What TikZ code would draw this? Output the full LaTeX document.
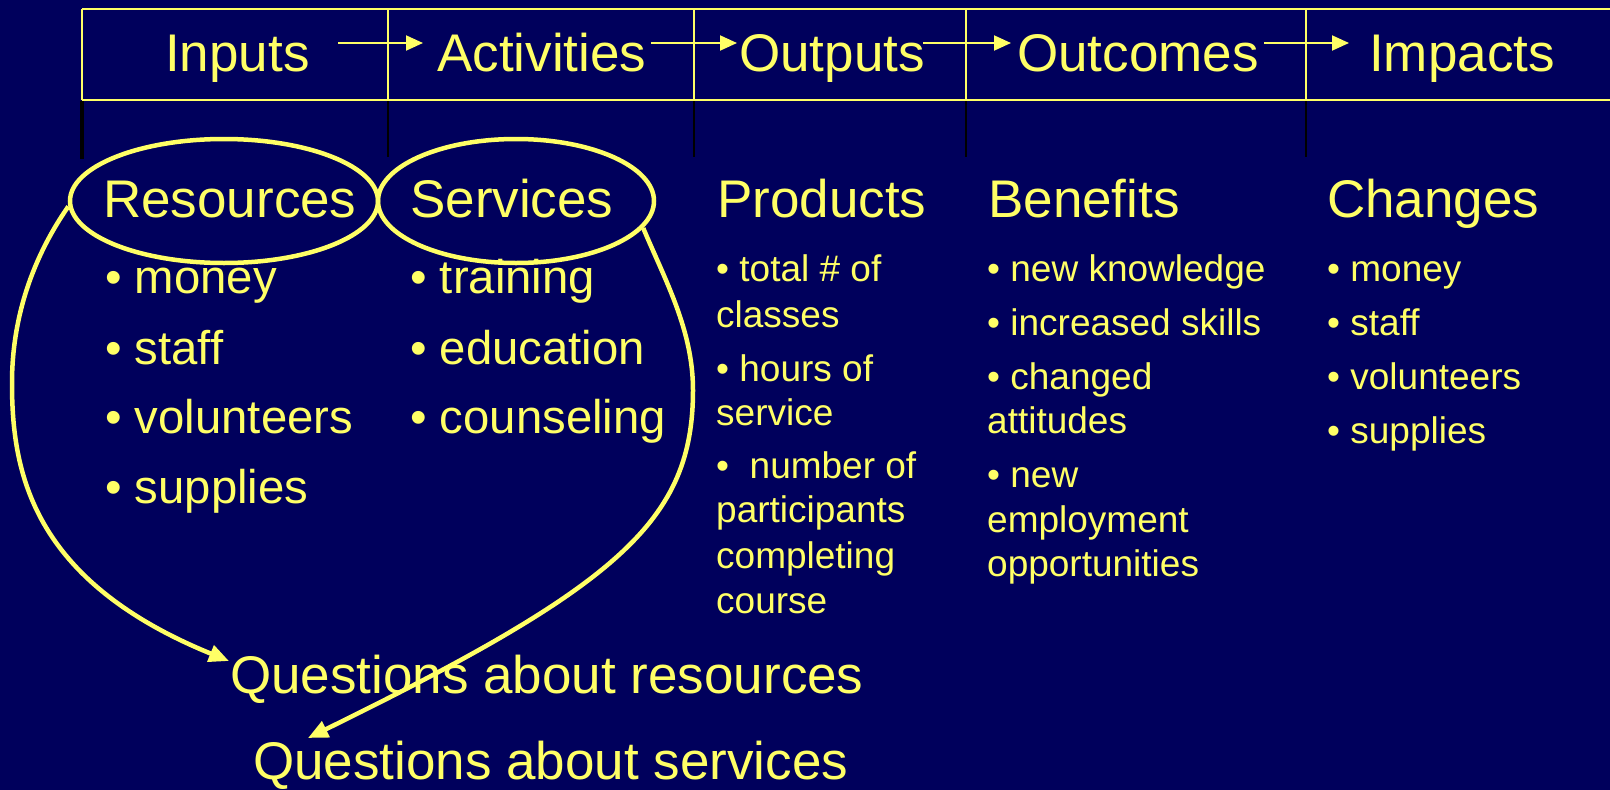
\documentclass[tikz,border=0pt]{standalone}
\usepackage{fontspec}
\setmainfont{Liberation Sans}
\usetikzlibrary{arrows.meta,shapes.geometric}
\definecolor{bg}{RGB}{0,0,92}
\definecolor{yel}{RGB}{255,255,102}
\begin{document}
\begin{tikzpicture}[x=1pt,y=-1pt,
  big/.style={text=yel,inner sep=0,anchor=base west,font=\fontsize{53}{60}\selectfont},
  mid/.style={text=yel,inner sep=0,anchor=base west,font=\fontsize{47.3}{54}\selectfont},
  sml/.style={text=yel,inner sep=0,anchor=base west,font=\fontsize{37}{42}\selectfont},
  rule/.style={draw=yel,line width=2.5pt},
  divider/.style={draw=yel,line width=2pt},
  tick/.style={draw=black,line width=1.5pt},
  flow/.style={draw=yel,line width=2pt,-{Triangle[length=17pt,width=15pt]}},
  loopy/.style={draw=yel,line width=4.5pt,-{Triangle[length=20pt,width=17pt]}},
  oval/.style={draw=yel,line width=4.5pt,ellipse,inner sep=0}]
\fill[bg] (0,0) rectangle (1610,790);
\useasboundingbox (0,0) rectangle (1610,790);
% header frame
\draw[rule] (82,9) -- (1610,9);
\draw[rule] (82,100) -- (1610,100);
\foreach \x in {82,388,694,966,1306} {\draw[divider] (\x,9) -- (\x,100);}
\draw[draw=black,line width=4.5pt] (82,101) -- (82,159);
\foreach \x in {388,694,966,1306} {\draw[tick] (\x,101) -- (\x,157);}
% header texts
\node[big] (inputs) at (165,71) {Inputs};
\node[big] (activities) at (437,71) {Activities};
\node[big] (outputs) at (739,71) {Outputs};
\node[big] (outcomes) at (1017,71) {Outcomes};
\node[big] (impacts) at (1369,71) {Impacts};
\coordinate (a1s) at (338,43); \coordinate (a1e) at (423,43);
\coordinate (a2s) at (651,43); \coordinate (a2e) at (737,43);
\coordinate (a3s) at (923,43); \coordinate (a3e) at (1011,43);
\coordinate (a4s) at (1264,43); \coordinate (a4e) at (1349,43);
\draw[flow] (a1s) -- (a1e);
\draw[flow] (a2s) -- (a2e);
\draw[flow] (a3s) -- (a3e);
\draw[flow] (a4s) -- (a4e);
% column titles
\node[big] (resources) at (103,217) {Resources};
\node[big] (services) at (410,217) {Services};
\node[big] (products) at (717,217) {Products};
\node[big] (benefits) at (988,217) {Benefits};
\node[big] (changes) at (1327,217) {Changes};
\node[oval,minimum width=308pt,minimum height=124pt] (resE) at (224,201) {};
\node[oval,minimum width=276pt,minimum height=124pt] (serE) at (516,201) {};
% column 1
\node[mid] (r1) at (105,293) {• money};
\node[mid] (r2) at (105,364) {• staff};
\node[mid] (r3) at (105,433) {• volunteers};
\node[mid] (r4) at (105,503) {• supplies};
% column 2
\node[mid] (s1) at (410,293) {• training};
\node[mid] (s2) at (410,364) {• education};
\node[mid] (s3) at (410,433) {• counseling};
% column 3
\node[sml] (p1a) at (716,281) {• total \# of};
\node[sml] (p1b) at (716,327) {classes};
\node[sml] (p2a) at (716,381) {• hours of};
\node[sml] (p2b) at (716,425) {service};
\node[sml] (p3a) at (716,478) {•\ \ number of};
\node[sml] (p3b) at (716,522) {participants};
\node[sml] (p3c) at (716,568) {completing};
\node[sml] (p3d) at (716,613) {course};
% column 4
\node[sml] (b1) at (987,281) {• new knowledge};
\node[sml] (b2) at (987,335) {• increased skills};
\node[sml] (b3a) at (987,389) {• changed};
\node[sml] (b3b) at (987,433) {attitudes};
\node[sml] (b4a) at (987,487) {• new};
\node[sml] (b4b) at (987,532) {employment};
\node[sml] (b4c) at (987,576) {opportunities};
% column 5
\node[sml] (c1) at (1327,281) {• money};
\node[sml] (c2) at (1327,335) {• staff};
\node[sml] (c3) at (1327,389) {• volunteers};
\node[sml] (c4) at (1327,443) {• supplies};
% questions
\node[big] (qres) at (230,693) {Questions about resources};
\node[big] (qser) at (253,779) {Questions about services};
\coordinate (tipres) at (229,661);
\coordinate (tipser) at (308,738);
\draw[loopy] (resE.182) .. controls (45,240) and (12,300) .. (12,383)
  .. controls (12,470) and (30,580) .. (tipres);
\draw[loopy] (serE.-12) .. controls (665,280) and (693,330) .. (693,390)
  .. controls (693,520) and (620,585) .. (tipser);
\end{tikzpicture}
\end{document}
